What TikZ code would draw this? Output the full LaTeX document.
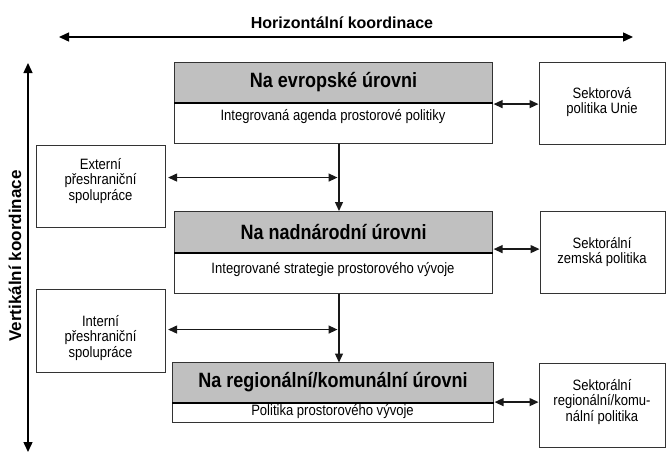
\documentclass[tikz,border=0pt]{standalone}
\usepackage{fontspec}
\setmainfont{Liberation Sans}
\newfontfamily\boxfont[FakeStretch=0.87]{Liberation Sans}
\usetikzlibrary{arrows.meta}
\definecolor{hdrgray}{RGB}{192,192,192}
\begin{document}
\begin{tikzpicture}[x=1pt,y=-1pt,
  box/.style={draw=black!80,line width=1.1pt,rectangle,inner sep=0pt,anchor=north west},
  hdr/.style={box,fill=hdrgray,font=\boxfont\fontsize{20.7}{22}\selectfont\bfseries},
  bodybox/.style={box,fill=white},
  sidebox/.style={box,fill=white},
  txt/.style={align=center,inner sep=0pt,font=\boxfont\fontsize{15}{15.5}\selectfont},
  sepline/.style={line width=2pt,black},
  conn/.style={line width=1.3pt,black!90},
  dbl/.style={conn,{Triangle[length=9pt,width=8pt]}-{Triangle[length=9pt,width=8pt]}},
  one/.style={conn,-{Triangle[length=9pt,width=8pt]}},
  axis/.style={line width=1.4pt,black,{Triangle[length=10pt,width=9pt]}-{Triangle[length=10pt,width=9pt]}}
]
\useasboundingbox[fill=white] (0,0) rectangle (666,453);

% axes
\node[font=\fontsize{16}{19}\selectfont\bfseries,anchor=base,inner sep=0pt] (title) at (342,28) {Horizontální koordinace};
\coordinate (hl) at (59,37);
\coordinate (hr) at (633,37);
\draw[axis] (hl) -- (hr);
\coordinate (vt) at (28,63);
\coordinate (vb) at (28,452);
\draw[axis] (vb) -- (vt);
\node[rotate=90,font=\fontsize{17}{20}\selectfont\bfseries,inner sep=0pt] (vtxt) at (15,256) {Vertikální koordinace};

% European level
\node[bodybox,minimum width=318pt,minimum height=41pt] (eub) at (174,102) {};
\node[hdr,minimum width=318pt,minimum height=40pt] (euh) at (174,62) {Na evropské úrovni};
\draw[sepline] (euh.south west) -- (euh.south east);
\node[txt] (eut) at (333,117) {Integrovaná agenda prostorové politiky};

% supranational level
\node[bodybox,minimum width=318pt,minimum height=41pt] (nadb) at (174,252) {};
\node[hdr,minimum width=318pt,minimum height=41pt] (nadh) at (174,211) {Na nadnárodní úrovni};
\draw[sepline] (nadh.south west) -- (nadh.south east);
\node[txt] (nadt) at (333,270) {Integrované strategie prostorového vývoje};

% regional level
\node[bodybox,minimum width=321pt,minimum height=20pt] (regb) at (172,402) {};
\node[hdr,minimum width=321pt,minimum height=40pt,text depth=5pt] (regh) at (172,362) {Na regionální/komunální úrovni};
\draw[sepline] (regh.south west) -- (regh.south east);
\node[txt] (regt) at (332.5,412) {Politika prostorového vývoje};

% side boxes
\node[sidebox,minimum width=126pt,minimum height=82pt] (sek1) at (539,62) {};
\node[txt] (sek1t) at (602,102) {Sektorová\\politika Unie};
\node[sidebox,minimum width=125pt,minimum height=82pt] (sek2) at (540,211) {};
\node[txt] (sek2t) at (602,252) {Sektorální\\zemská politika};
\node[sidebox,minimum width=126pt,minimum height=84pt] (sek3) at (539,363) {};
\node[txt] (sek3t) at (602,402) {Sektorální\\regionální/komu-\\nální politika};
\node[sidebox,minimum width=129pt,minimum height=82pt] (ext) at (36,145) {};
\node[txt] (extt) at (100.5,181) {Externí\\přeshraniční\\spolupráce};
\node[sidebox,minimum width=129pt,minimum height=83pt] (int) at (36,289) {};
\node[txt] (intt) at (100.5,338) {Interní\\přeshraniční\\spolupráce};

% vertical flow
\coordinate (vx) at (339,0);
\draw[one] (eub.south -| vx) -- (nadh.north -| vx);
\draw[one] (nadb.south -| vx) -- ([yshift=-0.5pt]regh.north -| vx);

% cross-border arrows to the vertical flow
\draw[dbl,shorten <=2pt,shorten >=1.5pt] ([yshift=9pt]ext.east) -- ([yshift=9pt]ext.east -| vx);
\draw[dbl,shorten <=2pt,shorten >=1.5pt] ([yshift=1.5pt]int.east) -- ([yshift=1.5pt]int.east -| vx);

% sectoral arrows
\draw[dbl,shorten <=0.5pt,shorten >=0.5pt] ([yshift=-1pt]euh.south east) -- ([yshift=-1pt]euh.south east -| sek1.west);
\draw[dbl,shorten <=0.5pt,shorten >=0.5pt] ([yshift=4pt]nadh.south east) -- ([yshift=4pt]nadh.south east -| sek2.west);
\draw[dbl,shorten <=0.5pt,shorten >=0.5pt] ([yshift=1pt]regh.south east) -- ([yshift=1pt]regh.south east -| sek3.west);
\end{tikzpicture}
\end{document}
